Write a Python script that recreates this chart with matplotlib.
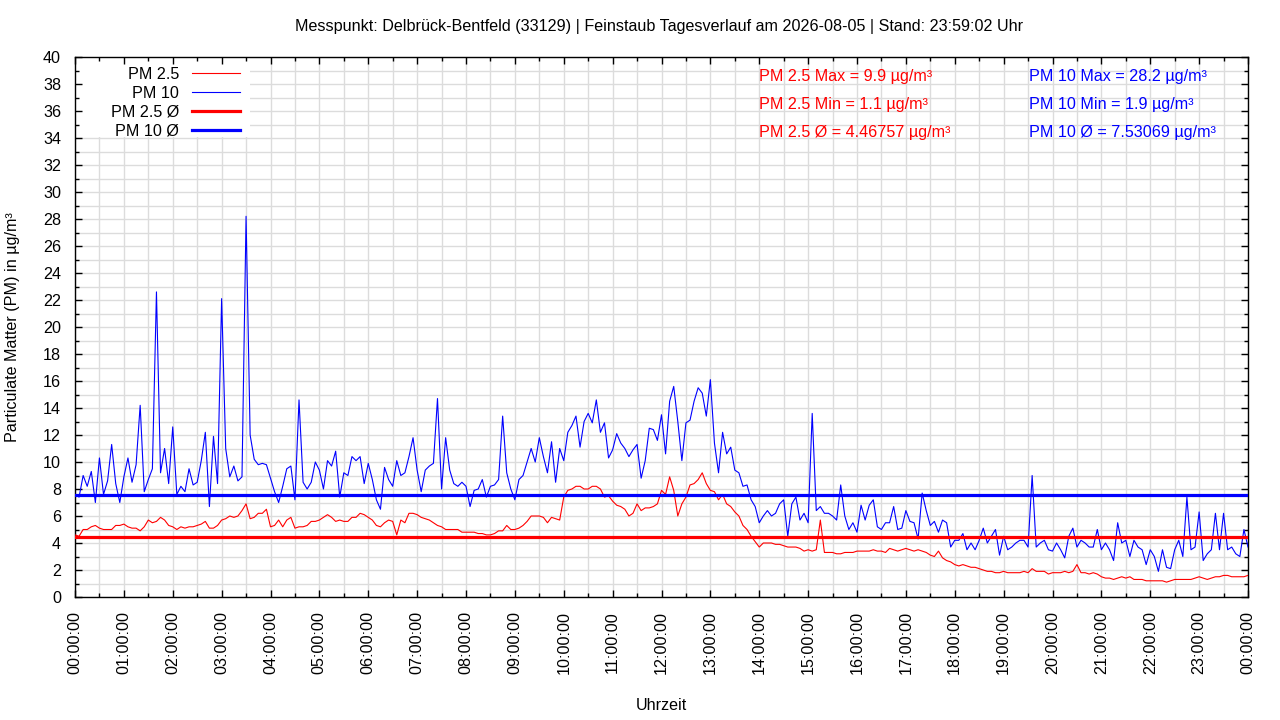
import matplotlib
matplotlib.use("Agg")
import matplotlib.pyplot as plt
import numpy as np
from matplotlib.ticker import MultipleLocator, FuncFormatter
from matplotlib.lines import Line2D
from matplotlib.patches import Rectangle

# ---------------- data (5-minute samples, 00:00 .. 24:00) ----------------
SAMPLE_MIN = 5

pm10 = [
    7.6, 7.4, 9.0, 8.2, 9.3, 7.0, 10.3, 7.6, 8.6, 11.3, 8.4, 7.0,      # 00
    8.9, 10.3, 8.5, 9.8, 14.2, 7.8, 8.7, 9.5, 22.6, 9.2, 11.0, 8.4,    # 01
    12.6, 7.6, 8.2, 7.8, 9.5, 8.3, 8.5, 10.1, 12.2, 6.7, 11.9, 8.4,    # 02
    22.1, 11.0, 8.9, 9.7, 8.6, 8.9, 28.2, 12.0, 10.2, 9.8, 9.9, 9.8,   # 03
    8.8, 7.8, 7.0, 8.2, 9.5, 9.7, 7.2, 14.6, 8.5, 8.0, 8.5, 10.0,      # 04
    9.4, 8.0, 10.1, 9.7, 10.8, 7.4, 9.2, 9.0, 10.4, 10.1, 10.4, 8.4,   # 05
    9.9, 8.7, 7.2, 6.5, 9.6, 8.7, 8.2, 10.1, 9.0, 9.2, 10.4, 11.8,     # 06
    9.4, 7.8, 9.4, 9.7, 9.9, 14.7, 8.0, 11.8, 9.4, 8.4, 8.2, 8.5,      # 07
    8.2, 6.7, 7.9, 8.0, 8.7, 7.4, 8.2, 8.3, 8.7, 13.4, 9.2, 8.0,       # 08
    7.2, 8.7, 9.0, 10.0, 11.0, 10.0, 11.8, 10.4, 9.2, 11.5, 8.5, 11.0, # 09
    10.1, 12.2, 12.7, 13.4, 11.1, 13.0, 13.6, 12.9, 14.6, 12.2, 12.9, 10.3,  # 10
    10.9, 12.1, 11.4, 11.0, 10.4, 10.9, 11.3, 8.8, 10.1, 12.5, 12.4, 11.6,   # 11
    13.5, 10.6, 14.5, 15.6, 13.0, 10.1, 12.9, 13.1, 14.5, 15.5, 15.1, 13.4,  # 12
    16.1, 11.4, 9.2, 12.2, 10.6, 11.1, 9.4, 9.2, 8.2, 8.3, 7.2, 6.7,   # 13
    5.5, 6.0, 6.4, 6.0, 6.2, 6.9, 7.2, 4.5, 6.9, 7.4, 5.7, 6.2,        # 14
    5.5, 13.6, 6.4, 6.7, 6.2, 6.2, 6.0, 5.7, 8.3, 6.0, 5.0, 5.5,       # 15
    4.8, 6.8, 5.7, 6.8, 7.2, 5.2, 5.0, 5.5, 5.5, 6.7, 5.0, 5.1,        # 16
    6.4, 5.6, 5.5, 4.3, 7.7, 6.4, 5.3, 5.6, 4.8, 5.7, 5.5, 3.7,        # 17
    4.2, 4.2, 4.7, 3.5, 4.0, 3.5, 4.2, 5.1, 4.0, 4.5, 5.0, 3.1,        # 18
    4.5, 3.5, 3.7, 4.0, 4.2, 4.2, 3.7, 9.0, 3.7, 4.0, 4.2, 3.5,        # 19
    3.4, 4.0, 3.5, 2.9, 4.5, 5.1, 3.7, 4.2, 4.0, 3.7, 3.7, 5.0,        # 20
    3.5, 4.0, 3.5, 2.7, 5.5, 4.0, 4.2, 3.0, 4.2, 3.7, 3.5, 2.4,        # 21
    3.5, 3.0, 1.9, 3.5, 2.2, 2.1, 3.5, 4.2, 3.0, 7.4, 3.5, 3.7,        # 22
    6.3, 2.7, 3.2, 3.5, 6.2, 3.5, 6.2, 3.5, 3.7, 3.2, 3.0, 5.0,        # 23
    3.7,
]

pm25 = [
    4.6, 4.5, 5.0, 5.0, 5.2, 5.3, 5.1, 5.0, 5.0, 5.0, 5.3, 5.3,        # 00
    5.4, 5.2, 5.1, 5.1, 4.9, 5.2, 5.7, 5.5, 5.6, 5.9, 5.7, 5.3,        # 01
    5.2, 5.0, 5.2, 5.1, 5.2, 5.2, 5.3, 5.4, 5.6, 5.1, 5.1, 5.3,        # 02
    5.7, 5.8, 6.0, 5.9, 6.0, 6.4, 6.9, 5.8, 5.9, 6.2, 6.2, 6.5,        # 03
    5.2, 5.3, 5.7, 5.2, 5.7, 5.9, 5.1, 5.2, 5.2, 5.3, 5.6, 5.6,        # 04
    5.7, 5.9, 6.1, 5.9, 5.6, 5.7, 5.6, 5.6, 5.9, 5.9, 6.2, 6.1,        # 05
    5.9, 5.7, 5.3, 5.2, 5.5, 5.7, 5.6, 4.6, 5.7, 5.5, 6.2, 6.2,        # 06
    6.1, 5.9, 5.8, 5.7, 5.5, 5.3, 5.2, 5.0, 5.0, 5.0, 5.0, 4.8,        # 07
    4.8, 4.8, 4.8, 4.7, 4.7, 4.6, 4.6, 4.7, 4.9, 4.9, 5.3, 5.0,        # 08
    5.0, 5.1, 5.3, 5.6, 6.0, 6.0, 6.0, 5.9, 5.5, 5.9, 5.8, 5.7,        # 09
    7.4, 7.9, 8.0, 8.2, 8.2, 8.0, 8.0, 8.2, 8.2, 8.0, 7.4, 7.5,        # 10
    7.1, 6.8, 6.7, 6.5, 6.0, 6.2, 6.9, 6.4, 6.6, 6.6, 6.7, 6.9,        # 11
    7.9, 7.6, 8.9, 7.9, 6.0, 6.9, 7.4, 8.3, 8.4, 8.7, 9.2, 8.4,        # 12
    7.9, 7.8, 7.2, 7.6, 6.9, 6.7, 6.3, 6.0, 5.3, 5.0, 4.5, 4.1,        # 13
    3.7, 4.0, 4.0, 4.0, 3.9, 3.9, 3.8, 3.7, 3.7, 3.7, 3.6, 3.4,        # 14
    3.5, 3.4, 3.5, 5.7, 3.3, 3.3, 3.3, 3.2, 3.2, 3.3, 3.3, 3.3,        # 15
    3.4, 3.4, 3.4, 3.4, 3.5, 3.4, 3.4, 3.3, 3.6, 3.5, 3.4, 3.5,        # 16
    3.6, 3.5, 3.4, 3.5, 3.4, 3.3, 3.1, 3.0, 3.4, 2.9, 2.7, 2.6,        # 17
    2.4, 2.3, 2.4, 2.3, 2.2, 2.2, 2.1, 2.0, 1.9, 1.9, 1.8, 1.8,        # 18
    1.9, 1.8, 1.8, 1.8, 1.8, 1.9, 1.8, 2.1, 1.9, 1.9, 1.9, 1.7,        # 19
    1.8, 1.8, 1.8, 1.9, 1.8, 1.9, 2.4, 1.8, 1.8, 1.7, 1.8, 1.7,        # 20
    1.5, 1.4, 1.4, 1.3, 1.4, 1.5, 1.4, 1.5, 1.3, 1.3, 1.3, 1.2,        # 21
    1.2, 1.2, 1.2, 1.2, 1.1, 1.2, 1.3, 1.3, 1.3, 1.3, 1.3, 1.4,        # 22
    1.5, 1.4, 1.3, 1.4, 1.5, 1.5, 1.6, 1.6, 1.5, 1.5, 1.5, 1.5,        # 23
    1.6,
]

PM25_MEAN = 4.46757
PM10_MEAN = 7.53069
PM25_MAX, PM25_MIN = 9.9, 1.1
PM10_MAX, PM10_MIN = 28.2, 1.9

legend_labels = ["PM 2.5", "PM 10", "PM 2.5 Ø", "PM 10 Ø"]
title_text = ("Messpunkt: Delbrück-Bentfeld (33129) | Feinstaub Tagesverlauf am "
              "2026-08-05 | Stand: 23:59:02 Uhr")
x_label = "Uhrzeit"
y_label = "Particulate Matter (PM) in µg/m³"

RED = "#ff0000"
BLUE = "#0000ff"

# ---------------- figure ----------------
plt.rcParams['font.family'] = ['Liberation Sans', 'DejaVu Sans']
FS = 11.6

W, H = 1280, 720
fig = plt.figure(figsize=(W / 100, H / 100), dpi=100)
L, R, T, B = 75, 1248, 57, 597
rect = [L / W, 1 - B / H, (R - L) / W, (B - T) / H]


def setup_scales(a):
    a.set_xlim(0, 24)
    a.set_ylim(0, 40)
    a.xaxis.set_major_locator(MultipleLocator(1))
    a.xaxis.set_minor_locator(MultipleLocator(0.5))
    a.yaxis.set_major_locator(MultipleLocator(2))
    a.yaxis.set_minor_locator(MultipleLocator(1))


# back axes: only the grid and the white key background
gax = fig.add_axes(rect, zorder=0)
setup_scales(gax)
gax.grid(which='both', color='#dcdcdc', lw=1)
gax.tick_params(which='both', length=0, labelbottom=False, labelleft=False)
for s in gax.spines.values():
    s.set_visible(False)
gax.add_patch(Rectangle((0, 1 - (137 - T) / (B - T)), (250 - L) / (R - L), (137 - T) / (B - T),
                        transform=gax.transAxes, facecolor='white', edgecolor='none', zorder=5))

# front axes: data, ticks, frame
ax = fig.add_axes(rect, zorder=1)
ax.patch.set_alpha(0)
setup_scales(ax)

t_hours = np.arange(len(pm10)) * SAMPLE_MIN / 60.0

ax.plot(t_hours, pm10, color=BLUE, lw=0.8, zorder=3)
ax.plot(t_hours, pm25, color=RED, lw=0.8, zorder=4)
ax.axhline(PM25_MEAN, color=RED, lw=2.3, zorder=5)
ax.axhline(PM10_MEAN, color=BLUE, lw=2.3, zorder=5)

ax.xaxis.set_major_formatter(FuncFormatter(lambda v, p: f"{int(round(v)) % 24:02d}:00:00"))
ax.yaxis.set_major_formatter(FuncFormatter(lambda v, p: f"{int(round(v))}"))

ax.tick_params(which='both', direction='in', top=True, right=True,
               labelsize=FS, colors='black', width=1)
ax.tick_params(which='major', length=5, pad=10)
ax.tick_params(which='minor', length=3)
ax.tick_params(axis='x', which='major', labelrotation=90, pad=10)

for s in ax.spines.values():
    s.set_linewidth(1)
    s.set_color('black')

handles = [Line2D([], [], color=RED, lw=0.8),
           Line2D([], [], color=BLUE, lw=0.8),
           Line2D([], [], color=RED, lw=2.3),
           Line2D([], [], color=BLUE, lw=2.3)]
leg = ax.legend(handles, legend_labels, loc='upper right',
                bbox_to_anchor=((250 - L) / (R - L), 1.0),
                markerfirst=False, fontsize=FS, frameon=False,
                handlelength=3.0, handletextpad=0.8, labelspacing=0.24,
                borderpad=0.6, borderaxespad=0)
leg.set_zorder(10)

fig.text(659 / W, 1 - 27 / H, title_text, ha='center', va='center', fontsize=FS)
fig.text((L + R) / 2 / W, 1 - 705 / H, x_label, ha='center', va='center', fontsize=FS)
fig.text(13 / W, 1 - 327 / H, y_label, ha='center', va='center', rotation=90, fontsize=FS)

stats_red = [f"PM 2.5 Max = {PM25_MAX} µg/m³",
             f"PM 2.5 Min = {PM25_MIN} µg/m³",
             f"PM 2.5 Ø = {PM25_MEAN} µg/m³"]
stats_blue = [f"PM 10 Max = {PM10_MAX} µg/m³",
              f"PM 10 Min = {PM10_MIN} µg/m³",
              f"PM 10 Ø = {PM10_MEAN} µg/m³"]
for i, ypx in enumerate([77, 105, 132]):
    fig.text(759 / W, 1 - ypx / H, stats_red[i], color=RED, ha='left', va='center', fontsize=FS)
    fig.text(1029 / W, 1 - ypx / H, stats_blue[i], color=BLUE, ha='left', va='center', fontsize=FS)

fig.savefig("out.png", dpi=100)
